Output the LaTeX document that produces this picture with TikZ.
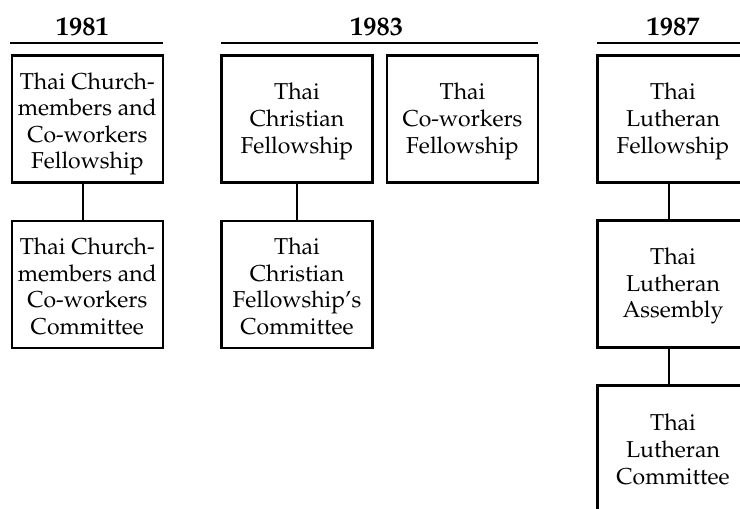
\documentclass[tikz,border=0pt]{standalone}
\usepackage[T1]{fontenc}
\usepackage{mathpazo}
\begin{document}
\begin{tikzpicture}[x=1pt,y=1pt,
  box/.style={draw, line width=2.2pt, minimum width=151pt, minimum height=127pt, inner sep=0pt},
  txt/.style={inner sep=0pt, align=center, font=\fontsize{23}{26.6}\selectfont},
  yr/.style={font=\fontsize{26.5}{30}\selectfont\bfseries, inner sep=0pt},
  rulel/.style={line width=1.8pt},
  link/.style={line width=2pt}]
\useasboundingbox (0,0) rectangle (740,509);
\clip (0,0) rectangle (740,509);

% headings
\node[yr] (h1) at (82.5,482) {1981};
\node[yr] (h2) at (376.7,482) {1983};
\node[yr] (h3) at (673,482) {1987};
\coordinate (r1a) at (10,466.3);  \coordinate (r1b) at (163,466.3);
\coordinate (r2a) at (221,466.3); \coordinate (r2b) at (538,466.3);
\coordinate (r3a) at (597,466.3); \coordinate (r3b) at (749,466.3);
\draw[rulel] (r1a) -- (r1b);
\draw[rulel] (r2a) -- (r2b);
\draw[rulel] (r3a) -- (r3b);

% 1981
\node[box] (a1) at (87.3,390) {};
\node[txt] (a1t) at ([yshift=-5pt]a1.center) {Thai Church-\\members and\\Co-workers\\Fellowship};
\node[box] (a2) at (87.3,224.5) {};
\node[txt] (a2t) at ([yshift=-2pt]a2.center) {Thai Church-\\members and\\Co-workers\\Committee};
% 1983
\node[box] (b1) at (297,390) {};
\node[txt] (b1t) at ([yshift=-2.5pt]b1.center) {Thai\\Christian\\Fellowship};
\node[box] (b2) at (462.5,390) {};
\node[txt] (b2t) at ([yshift=-2.5pt]b2.center) {Thai\\Co-workers\\Fellowship};
\node[box] (b3) at (297,224.5) {};
\node[txt] (b3t) at ([yshift=-2pt]b3.center) {Thai\\Christian\\Fellowship's\\Committee};
% 1987
\node[box] (c1) at (673,390) {};
\node[txt] (c1t) at ([yshift=-2.5pt]c1.center) {Thai\\Lutheran\\Fellowship};
\node[box] (c2) at (673,225) {};
\node[txt] (c2t) at ([yshift=-2pt]c2.center) {Thai\\Lutheran\\Assembly};
\node[box] (c3) at (673,60) {};
\node[txt] (c3t) at ([yshift=-0.5pt]c3.center) {Thai\\Lutheran\\Committee};

% connectors
\draw[link] ([xshift=-4.6pt]a1.south) -- ([xshift=-4.6pt]a2.north);
\draw[link] (b1.south) -- (b3.north);
\draw[link] ([xshift=-4pt]c1.south) -- ([xshift=-4pt]c2.north);
\draw[link] ([xshift=-4pt]c2.south) -- ([xshift=-4pt]c3.north);
\end{tikzpicture}
\end{document}
